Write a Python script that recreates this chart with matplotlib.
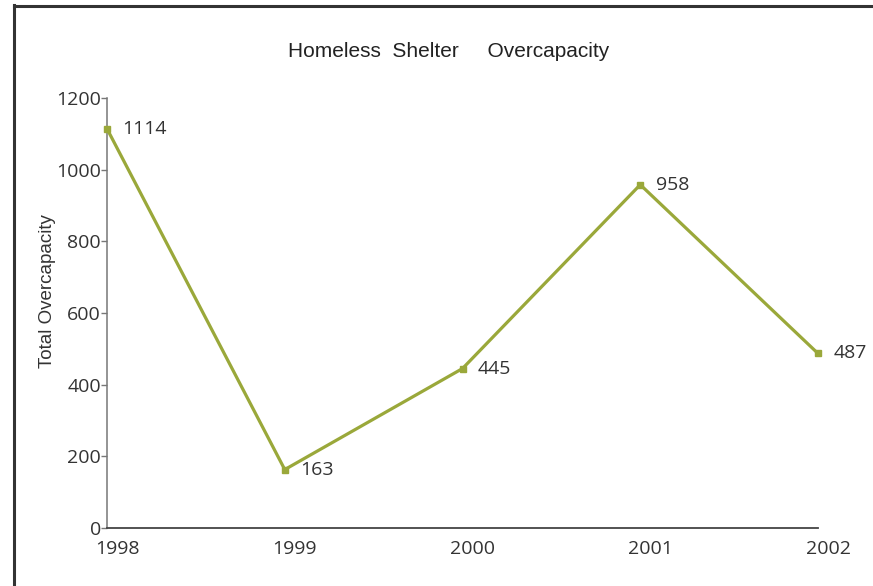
import matplotlib.pyplot as plt
import matplotlib.transforms as mtransforms
from matplotlib.lines import Line2D

# data
years = [1998, 1999, 2000, 2001, 2002]
overcapacity = [1114, 163, 445, 958, 487]
y_ticks = [0, 200, 400, 600, 800, 1000, 1200]

line_color = '#9aa83a'
text_color = '#333333'
num_font = ['Open Sans', 'DejaVu Sans']

fig = plt.figure(figsize=(8.73, 5.86), dpi=100)
ax = fig.add_axes([0.1226, 0.099, 0.8144, 0.7338])

ax.plot(years, overcapacity, color=line_color, linewidth=2.3,
        marker='s', markersize=5, clip_on=False, zorder=3)

# value labels to the right of each point
for x, y in zip(years, overcapacity):
    ax.annotate(str(y), (x, y), xytext=(11, 0), textcoords='offset points',
                va='center', ha='left', fontsize=14, color=text_color,
                family=num_font)

ax.set_xlim(1998, 2002)
ax.set_ylim(0, 1200)
ax.set_xticks(years)
ax.set_yticks(y_ticks)
ax.set_xticklabels([str(y) for y in years], family=num_font)
ax.set_yticklabels([str(t) for t in y_ticks], family=num_font)
ax.tick_params(axis='x', length=0, pad=9, labelsize=14, labelcolor=text_color)
ax.tick_params(axis='y', length=4, width=1, color='#777777', pad=0.5,
               labelsize=14, labelcolor=text_color)

# year labels sit a little to the right of their points in the original
shift = mtransforms.ScaledTranslation(0.10, 0, fig.dpi_scale_trans)
for lab in ax.get_xticklabels():
    lab.set_transform(lab.get_transform() + shift)

for side in ['top', 'right']:
    ax.spines[side].set_visible(False)
ax.spines['left'].set_color('#777777')
ax.spines['bottom'].set_color('#444444')
ax.spines['left'].set_linewidth(1.1)
ax.spines['bottom'].set_linewidth(1.3)

ax.set_ylabel('Total Overcapacity', fontsize=13.5, color=text_color,
              family=['Liberation Sans', 'DejaVu Sans'])
ax.yaxis.set_label_coords(-0.072, 0.551)

fig.text(0.514, 0.912, 'Homeless  Shelter     Overcapacity', ha='center', va='center',
         fontsize=15, color='#222222',
         family=['Liberation Sans Narrow', 'Liberation Sans', 'DejaVu Sans'])

# frame lines along the top and left edge of the picture
fig.add_artist(Line2D([0.016, 1.0], [0.9895, 0.9895], color='#333333', linewidth=2.2))
fig.add_artist(Line2D([0.0165, 0.0165], [0.0, 0.9915], color='#333333', linewidth=2.2))

fig.savefig('out.png', dpi=100)
